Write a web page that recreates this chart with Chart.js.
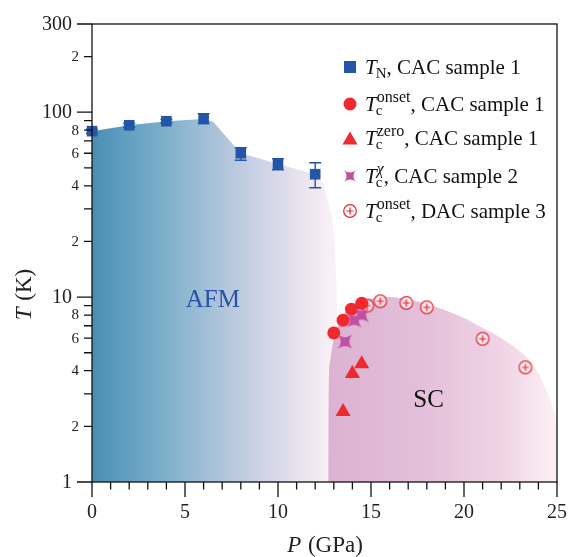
<!DOCTYPE html>
<html>
<head>
<meta charset="utf-8">
<script src="https://cdn.jsdelivr.net/npm/chart.js@4.4.1/dist/chart.umd.min.js"></script>
<style>
  html, body { margin: 0; padding: 0; background: #fff; }
  canvas { display: block; }
</style>
</head>
<body>
<canvas id="phaseChart" width="569" height="557"></canvas>
<script>
// values: P in GPa, T in K
const tnPressure = [0, 2, 4, 6, 8, 10, 12];
const tnTemp = [79, 85, 89.4, 92, 60, 52.5, 46.2];
const tnErrLow = [77, 83, 87.5, 86.8, 55, 48.8, 39];
const tnErrHigh = [81, 87, 91.5, 98.2, 64.3, 56.1, 53.3];

const onsetPressure = [13.0, 13.5, 13.95, 14.5];
const onsetTemp = [6.4, 7.5, 8.6, 9.25];

const zeroPressure = [13.5, 14.0, 14.5];
const zeroTemp = [2.4, 3.85, 4.35];

const chiPressure = [13.6, 14.1, 14.5];
const chiTemp = [5.75, 7.5, 8.0];

const dacPressure = [14.8, 15.5, 16.9, 18.0, 21.0, 23.3];
const dacTemp = [9.0, 9.5, 9.3, 8.8, 5.95, 4.17];

// outlines of the shaded AFM and SC regions
const afmEdgeP = [0, 2, 4, 6, 6.5, 8, 10, 12, 12.45, 12.9, 13.07, 13.15, 13.2, 13.2];
const afmEdgeT = [79, 85, 89.4, 92, 89, 60, 52.5, 46.2, 41, 27, 18, 11, 5, 1];
const scEdgeP = [12.7, 12.72, 12.8, 12.95, 13.2, 13.6, 14.2, 15.0, 16.0, 17.0, 18.0, 19.0, 20.0, 21.0, 22.0, 23.0, 23.8, 24.4, 24.8, 25.0];
const scEdgeT = [1, 3, 4.5, 5.6, 6.9, 8.2, 9.2, 9.8, 10.0, 9.7, 9.2, 8.5, 7.7, 6.8, 6.0, 5.1, 4.2, 3.2, 2.5, 2.2];

// axis ticks
const xTicks = [0, 1, 2, 3, 4, 5, 6, 7, 8, 9, 10, 11, 12, 13, 14, 15, 16, 17, 18, 19, 20, 21, 22, 23, 24, 25];
const xTickLabels = { 0: '0', 5: '5', 10: '10', 15: '15', 20: '20', 25: '25' };
const yTicks = [1, 2, 3, 4, 5, 6, 7, 8, 9, 10, 20, 30, 40, 50, 60, 70, 80, 90, 100, 200, 300];
const yTickLabels = { 1: '1', 2: '2', 4: '4', 6: '6', 8: '8', 10: '10', 20: '2', 40: '4', 60: '6', 80: '8', 100: '100', 200: '2', 300: '300' };
const yMajor = [1, 10, 100, 300];

const SERIF = '"Liberation Serif", "Times New Roman", serif';

function toPoints(xs, ys) {
    return xs.map((x, i) => ({ x: x, y: ys[i] }));
}

// marker images for the two special symbols
function makeStar(size, color) {
    const c = document.createElement('canvas');
    c.width = c.height = size;
    const g = c.getContext('2d');
    const m = size / 2, r = size / 2 - 0.5, k = r * 0.25;
    g.fillStyle = color;
    g.beginPath();
    g.moveTo(m - r, m - r);
    g.quadraticCurveTo(m, m - k, m + r, m - r);
    g.quadraticCurveTo(m + k, m, m + r, m + r);
    g.quadraticCurveTo(m, m + k, m - r, m + r);
    g.quadraticCurveTo(m - k, m, m - r, m - r);
    g.fill();
    return c;
}

function makeCirclePlus(size, color) {
    const c = document.createElement('canvas');
    c.width = c.height = size;
    const g = c.getContext('2d');
    const m = size / 2;
    g.strokeStyle = color;
    g.lineWidth = 1.2;
    g.fillStyle = 'rgba(255,255,255,0.55)';
    g.beginPath();
    g.arc(m, m, 6.3, 0, Math.PI * 2);
    g.fill();
    g.stroke();
    g.beginPath();
    g.moveTo(m - 3.5, m); g.lineTo(m + 3.5, m);
    g.moveTo(m, m - 3.5); g.lineTo(m, m + 3.5);
    g.stroke();
    return c;
}

const BLUE = '#2356a6';
const RED = '#ee2a2e';
const MAGENTA = '#c150a2';
const starImg = makeStar(15, MAGENTA);
const legendStarImg = makeStar(12, MAGENTA);
const dacImg = makeCirclePlus(16, '#e8262f');

function afmFill(context) {
    const chart = context.chart;
    if (!chart.chartArea) return '#a5c1d8';
    const xs = chart.scales.x;
    const g = chart.ctx.createLinearGradient(xs.getPixelForValue(0), 0, xs.getPixelForValue(12.8), 0);
    g.addColorStop(0, '#4a8db5');
    g.addColorStop(0.25, '#72aac7');
    g.addColorStop(0.5, '#a6c1d8');
    g.addColorStop(0.72, '#d0d3e6');
    g.addColorStop(0.88, '#e9e3ef');
    g.addColorStop(1, '#f9f0f5');
    return g;
}

function scFill(context) {
    const chart = context.chart;
    if (!chart.chartArea) return '#e4c0da';
    const xs = chart.scales.x;
    const g = chart.ctx.createLinearGradient(xs.getPixelForValue(12.7), 0, xs.getPixelForValue(25), 0);
    g.addColorStop(0, '#dcb2d2');
    g.addColorStop(0.4, '#e3bfd9');
    g.addColorStop(0.75, '#efd3e4');
    g.addColorStop(1, '#fcf0f5');
    return g;
}

// frame, ticks, tick labels and axis titles
const axesPlugin = {
    id: 'axesPlugin',
    afterDraw(chart) {
        const ctx = chart.ctx;
        const a = chart.chartArea;
        const xs = chart.scales.x, ys = chart.scales.y;
        ctx.save();
        ctx.strokeStyle = '#111';
        ctx.lineWidth = 1.3;
        ctx.strokeRect(a.left, a.top, a.right - a.left, a.bottom - a.top);

        ctx.beginPath();
        xTicks.forEach(v => {
            const px = xs.getPixelForValue(v);
            const len = xTickLabels[v] !== undefined ? 15 : 7.5;
            ctx.moveTo(px, a.bottom);
            ctx.lineTo(px, a.bottom + len);
        });
        yTicks.forEach(v => {
            const py = ys.getPixelForValue(v);
            const len = yMajor.includes(v) ? 15 : 8;
            ctx.moveTo(a.left, py);
            ctx.lineTo(a.left - len, py);
        });
        ctx.stroke();

        ctx.fillStyle = '#222';
        ctx.textAlign = 'center';
        ctx.textBaseline = 'middle';
        ctx.font = '20px ' + SERIF;
        xTicks.forEach(v => {
            if (xTickLabels[v] === undefined) return;
            ctx.fillText(xTickLabels[v], xs.getPixelForValue(v), a.bottom + 31);
        });
        ctx.textAlign = 'right';
        yTicks.forEach(v => {
            if (yTickLabels[v] === undefined) return;
            const major = yMajor.includes(v);
            ctx.font = (major ? '20px ' : '15px ') + SERIF;
            ctx.fillText(yTickLabels[v], a.left - (major ? 20 : 13), ys.getPixelForValue(v) + 0.5);
        });

        // x title: P (GPa)
        ctx.textBaseline = 'alphabetic';
        ctx.textAlign = 'left';
        ctx.font = 'italic 23px ' + SERIF;
        const pW = ctx.measureText('P').width;
        ctx.font = '23px ' + SERIF;
        const restX = ' (GPa)';
        const rW = ctx.measureText(restX).width;
        const cx = (a.left + a.right) / 2;
        const startX = cx - (pW + rW) / 2;
        ctx.font = 'italic 23px ' + SERIF;
        ctx.fillText('P', startX, 552);
        ctx.font = '23px ' + SERIF;
        ctx.fillText(restX, startX + pW + 1, 552);

        // y title: T (K)
        ctx.translate(31, 295);
        ctx.rotate(-Math.PI / 2);
        ctx.font = 'italic 23px ' + SERIF;
        const tW = ctx.measureText('T').width;
        ctx.font = '23px ' + SERIF;
        const kW = ctx.measureText(' (K)').width;
        const sx = -(tW + kW) / 2;
        ctx.font = 'italic 23px ' + SERIF;
        ctx.fillText('T', sx, 0);
        ctx.font = '23px ' + SERIF;
        ctx.fillText(' (K)', sx + tW + 1, 0);
        ctx.restore();
    }
};

// error bars on the T_N points
const errorBarPlugin = {
    id: 'errorBars',
    afterDatasetsDraw(chart) {
        const ctx = chart.ctx;
        const xs = chart.scales.x, ys = chart.scales.y;
        ctx.save();
        ctx.strokeStyle = BLUE;
        ctx.lineWidth = 1.4;
        ctx.beginPath();
        tnPressure.forEach((p, i) => {
            const px = xs.getPixelForValue(p);
            const lo = ys.getPixelForValue(tnErrLow[i]);
            const hi = ys.getPixelForValue(tnErrHigh[i]);
            ctx.moveTo(px, lo); ctx.lineTo(px, hi);
            ctx.moveTo(px - 6, lo); ctx.lineTo(px + 6, lo);
            ctx.moveTo(px - 6, hi); ctx.lineTo(px + 6, hi);
        });
        ctx.stroke();
        ctx.restore();
    }
};

// AFM / SC region names
const regionLabelPlugin = {
    id: 'regionLabels',
    afterDatasetsDraw(chart) {
        const ctx = chart.ctx;
        const xs = chart.scales.x, ys = chart.scales.y;
        ctx.save();
        ctx.font = '25px ' + SERIF;
        ctx.textAlign = 'center';
        ctx.textBaseline = 'middle';
        ctx.fillStyle = '#2a52a5';
        ctx.fillText('AFM', xs.getPixelForValue(6.5), ys.getPixelForValue(9.6));
        ctx.fillStyle = '#111';
        ctx.fillText('SC', xs.getPixelForValue(18.1), ys.getPixelForValue(2.77));
        ctx.restore();
    }
};

// legend with sub/superscripts
const legendRows = [
    { marker: 'rect', sub: 'N', sup: '', rest: ', CAC sample 1', y: 67 },
    { marker: 'circle', sub: 'c', sup: 'onset', rest: ', CAC sample 1', y: 104 },
    { marker: 'triangle', sub: 'c', sup: 'zero', rest: ', CAC sample 1', y: 138 },
    { marker: 'star', sub: 'c', sup: 'χ', rest: ', CAC sample 2', y: 176 },
    { marker: 'dac', sub: 'c', sup: 'onset', rest: ', DAC sample 3', y: 211 }
];

const legendPlugin = {
    id: 'richLegend',
    afterDraw(chart) {
        const ctx = chart.ctx;
        ctx.save();
        const mx = 350, tx = 365;
        legendRows.forEach(row => {
            const y = row.y;
            ctx.fillStyle = row.marker === 'rect' ? BLUE : RED;
            if (row.marker === 'rect') {
                ctx.fillRect(mx - 6, y - 6, 12, 12);
            } else if (row.marker === 'circle') {
                ctx.beginPath(); ctx.arc(mx, y, 6.5, 0, Math.PI * 2); ctx.fill();
            } else if (row.marker === 'triangle') {
                ctx.beginPath();
                ctx.moveTo(mx, y - 6.5); ctx.lineTo(mx + 7.5, y + 6.5); ctx.lineTo(mx - 7.5, y + 6.5);
                ctx.closePath(); ctx.fill();
            } else if (row.marker === 'star') {
                ctx.drawImage(legendStarImg, mx - 6, y - 6);
            } else {
                ctx.drawImage(dacImg, mx - 8, y - 8);
            }
            const base = y + 7;
            ctx.fillStyle = '#111';
            ctx.textAlign = 'left';
            ctx.textBaseline = 'alphabetic';
            ctx.font = 'italic 21px ' + SERIF;
            ctx.fillText('T', tx, base);
            let x = tx + ctx.measureText('T').width - 1;
            ctx.font = '15px ' + SERIF;
            ctx.fillText(row.sub, x, base + 4);
            let w = ctx.measureText(row.sub).width;
            if (row.sup) {
                ctx.font = (row.sup === 'χ' ? 'italic ' : '') + '16px ' + SERIF;
                ctx.fillText(row.sup, x + 1, base - 9);
                w = Math.max(w, ctx.measureText(row.sup).width + 1);
            }
            x += w;
            ctx.font = '21px ' + SERIF;
            ctx.fillText(row.rest, x, base);
        });
        ctx.restore();
    }
};

const ctx = document.getElementById('phaseChart').getContext('2d');
const phaseChart = new Chart(ctx, {
    type: 'scatter',
    data: {
        datasets: [
            {
                type: 'line',
                label: 'AFM',
                data: toPoints(afmEdgeP, afmEdgeT),
                showLine: true,
                fill: 'start',
                backgroundColor: afmFill,
                borderWidth: 0,
                pointRadius: 0,
                order: 10
            },
            {
                type: 'line',
                label: 'SC',
                data: toPoints(scEdgeP, scEdgeT),
                showLine: true,
                fill: 'start',
                backgroundColor: scFill,
                borderWidth: 0,
                pointRadius: 0,
                cubicInterpolationMode: 'monotone',
                order: 9
            },
            {
                label: 'T_N, CAC sample 1',
                data: toPoints(tnPressure, tnTemp),
                pointStyle: 'rect',
                pointRadius: 7.5,
                backgroundColor: BLUE,
                borderWidth: 0,
                clip: false,
                order: 6
            },
            {
                label: 'Tc onset, DAC sample 3',
                data: toPoints(dacPressure, dacTemp),
                pointStyle: dacImg,
                order: 5
            },
            {
                label: 'Tc onset, CAC sample 1',
                data: toPoints(onsetPressure, onsetTemp),
                pointStyle: 'circle',
                pointRadius: 6.5,
                backgroundColor: RED,
                borderWidth: 0,
                order: 4
            },
            {
                label: 'Tc chi, CAC sample 2',
                data: toPoints(chiPressure, chiTemp),
                pointStyle: starImg,
                order: 3
            },
            {
                label: 'Tc zero, CAC sample 1',
                data: toPoints(zeroPressure, zeroTemp),
                pointStyle: 'triangle',
                pointRadius: 8.7,
                backgroundColor: RED,
                borderWidth: 0,
                order: 2
            }
        ]
    },
    options: {
        responsive: false,
        animation: false,
        layout: { padding: { left: 92, right: 12, top: 24, bottom: 75 } },
        scales: {
            x: { type: 'linear', min: 0, max: 25, display: false },
            y: { type: 'logarithmic', min: 1, max: 300, display: false }
        },
        plugins: {
            legend: { display: false },
            tooltip: { enabled: false }
        }
    },
    plugins: [errorBarPlugin, regionLabelPlugin, axesPlugin, legendPlugin]
});
</script>
</body>
</html>
